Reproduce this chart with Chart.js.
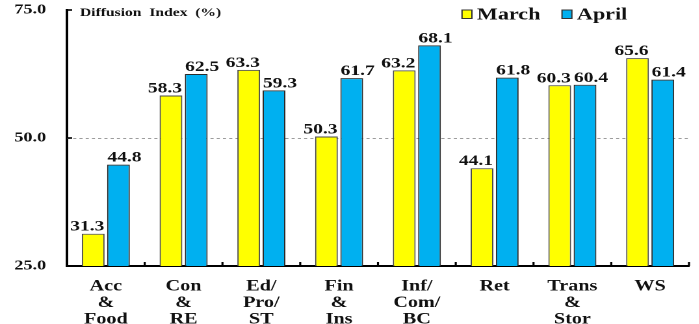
<!DOCTYPE html>
<html>
<head>
<meta charset="utf-8">
<script src="https://cdn.jsdelivr.net/npm/chart.js@4/dist/chart.umd.min.js"></script>
<style>
  html, body { margin: 0; padding: 0; background: #fff; overflow: hidden; }
  /* the chart is drawn narrow and widened, giving the broad serif lettering */
  #wrap { width: 538px; height: 345px; transform: scaleX(1.3); transform-origin: 0 0; }
</style>
</head>
<body>
<div id="wrap"><canvas id="c"></canvas></div>
<script>
const categories = [
  ['Acc', '&', 'Food'],
  ['Con', '&', 'RE'],
  ['Ed/', 'Pro/', 'ST'],
  ['Fin', '&', 'Ins'],
  ['Inf/', 'Com/', 'BC'],
  ['Ret'],
  ['Trans', '&', 'Stor'],
  ['WS']
];
const march = [31.3, 58.3, 63.3, 50.3, 63.2, 44.1, 60.3, 65.6];
const april = [44.8, 62.5, 59.3, 61.7, 68.1, 61.8, 60.4, 61.4];
const seriesNames = ['March', 'April'];
const yTicks = [25, 50, 75];
const refLine = 50;
const axisTitle = 'Diffusion  Index  (%)';

const FONT = "'Liberation Serif', 'Times New Roman', serif";
const YELLOW = '#FFFF00';
const BLUE = '#00B0F0';

const decor = {
  id: 'decor',
  beforeDatasetsDraw(chart) {
    const { ctx, chartArea: a, scales: { y } } = chart;
    ctx.save();
    ctx.strokeStyle = '#9c9c9c';
    ctx.lineWidth = 1;
    ctx.setLineDash([2.4, 2.4]);
    const yy = Math.round(y.getPixelForValue(refLine)) + 0.5;
    ctx.beginPath();
    ctx.moveTo(a.left, yy);
    ctx.lineTo(a.right, yy);
    ctx.stroke();
    ctx.restore();
  },
  afterDatasetsDraw(chart) {
    const { ctx, chartArea: a, scales: { x, y } } = chart;
    ctx.save();
    // inward tick marks
    ctx.strokeStyle = '#000';
    ctx.lineWidth = 1.6;
    yTicks.forEach(v => {
      const py = y.getPixelForValue(v);
      ctx.beginPath();
      ctx.moveTo(a.left, py);
      ctx.lineTo(a.left + 4, py);
      ctx.stroke();
    });
    for (let k = 1; k <= categories.length; k++) {
      const px = x.getPixelForValue(k - 0.5);
      ctx.beginPath();
      ctx.moveTo(px, a.bottom);
      ctx.lineTo(px, a.bottom - 4);
      ctx.stroke();
    }
    // value labels above the bars, pushed apart a little so pairs don't collide
    ctx.fillStyle = '#111';
    ctx.font = 'bold 15px ' + FONT;
    ctx.textAlign = 'center';
    ctx.textBaseline = 'alphabetic';
    const nudge = [-4.6, 4.6];
    chart.data.datasets.forEach((ds, i) => {
      chart.getDatasetMeta(i).data.forEach((bar, j) => {
        ctx.fillText(ds.data[j].toFixed(1), bar.x + nudge[i], bar.y - 3);
      });
    });
    // axis caption
    ctx.textAlign = 'left';
    ctx.textBaseline = 'middle';
    ctx.font = 'bold 12px ' + FONT;
    ctx.fillText(axisTitle, a.left + 10, 13);
    // legend
    const legendX = [355.4, 432.3];
    ctx.font = 'bold 17px ' + FONT;
    chart.data.datasets.forEach((ds, i) => {
      const bx = legendX[i];
      ctx.fillStyle = ds.backgroundColor;
      ctx.fillRect(bx, 10, 7.6, 8.5);
      ctx.strokeStyle = '#333';
      ctx.lineWidth = 1;
      ctx.strokeRect(bx, 10, 7.6, 8.5);
      ctx.fillStyle = '#111';
      ctx.fillText(ds.label, bx + 11.5, 15);
    });
    ctx.restore();
  }
};

new Chart(document.getElementById('c'), {
  type: 'bar',
  data: {
    labels: categories,
    datasets: [
      { label: seriesNames[0], data: march, backgroundColor: YELLOW, borderColor: '#4a4a4a', borderWidth: 1 },
      { label: seriesNames[1], data: april, backgroundColor: BLUE, borderColor: '#2a2a2a', borderWidth: 1 }
    ]
  },
  options: {
    responsive: true,
    maintainAspectRatio: false,
    devicePixelRatio: 2,
    animation: false,
    datasets: { bar: { categoryPercentage: 0.65, barPercentage: 0.9 } },
    layout: { padding: { top: 10, right: 8, left: 0, bottom: 0 } },
    plugins: { legend: { display: false }, tooltip: { enabled: false } },
    scales: {
      x: {
        offset: true,
        grid: { display: false, drawTicks: false },
        border: { display: true, color: '#000', width: 2 },
        ticks: {
          color: '#111',
          padding: 12,
          maxRotation: 0,
          autoSkip: false,
          font: { family: FONT, size: 15.5, weight: 'bold', lineHeight: 1.07 }
        },
        afterFit(s) { s.height = 79; s.paddingLeft = 0; s.paddingRight = 0; }
      },
      y: {
        min: 25,
        max: 75,
        afterBuildTicks(s) { s.ticks = yTicks.map(v => ({ value: v })); },
        grid: { display: false, drawTicks: false },
        border: { display: true, color: '#000', width: 2 },
        ticks: {
          color: '#111',
          padding: 16,
          font: { family: FONT, size: 14, weight: 'bold' },
          callback: v => Number(v).toFixed(1)
        },
        afterFit(s) { s.width = 51.5; s.paddingTop = 0; s.paddingBottom = 0; }
      }
    }
  },
  plugins: [decor]
});
</script>
</body>
</html>
